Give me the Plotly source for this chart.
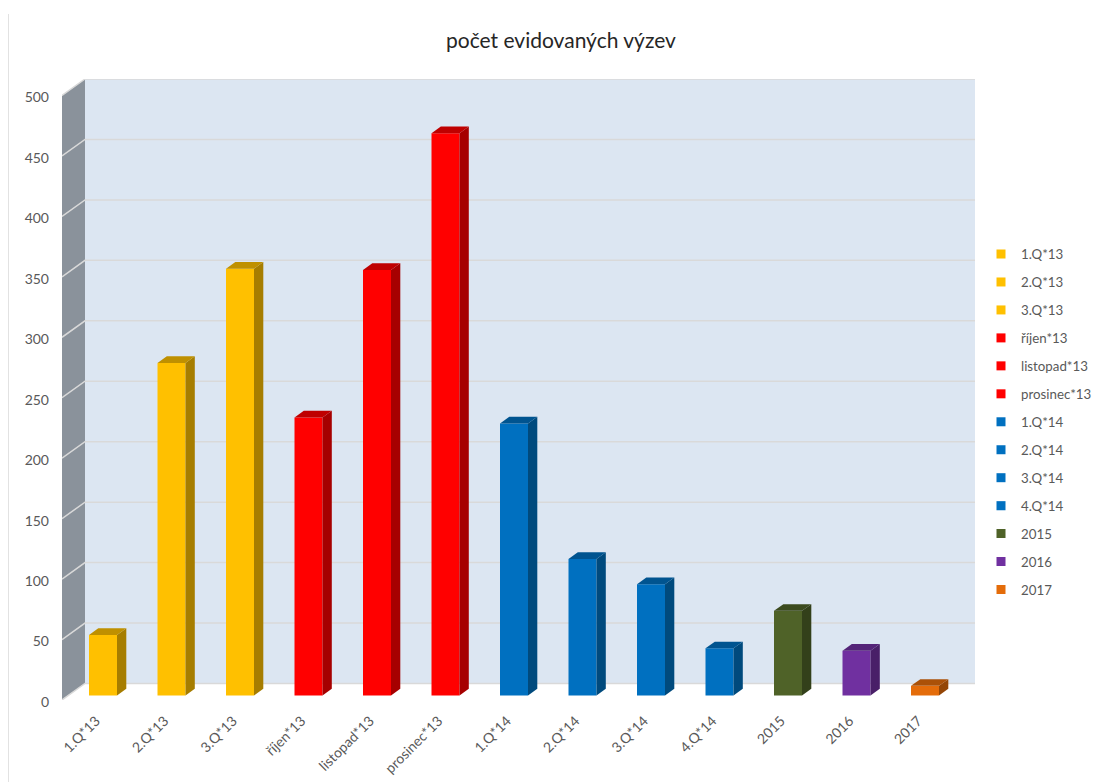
import plotly.graph_objects as go

categories = ["1.Q*13", "2.Q*13", "3.Q*13", "říjen*13", "listopad*13", "prosinec*13",
              "1.Q*14", "2.Q*14", "3.Q*14", "4.Q*14", "2015", "2016", "2017"]
values = [50, 275, 353, 230, 352, 465, 225, 113, 92, 39, 70, 37, 8]
front_colors = ["#FFC000"] * 3 + ["#FF0000"] * 3 + ["#0070C0"] * 4 + ["#4F6228", "#7030A0", "#E46C0A"]
side_colors = ["#A67D00"] * 3 + ["#A60000"] * 3 + ["#004A7D"] * 4 + ["#33401A", "#491F68", "#944606"]
top_colors = ["#BF9000"] * 3 + ["#BF0000"] * 3 + ["#005490"] * 4 + ["#3B4A1E", "#542478", "#AB5108"]
y_ticks = list(range(0, 501, 50))

# pixel layout of the plot frame (page coordinates)
PX_L, PX_R, PX_T, PX_B = 62, 975, 79, 700.5
FIG_W, FIG_H = 1125, 782
PAGE_OFF = 8
CAT_PX = 68.5
CAT0_PX = 103
VAL_PX = 1.21

x_lo = (PX_L - CAT0_PX) / CAT_PX
x_hi = (PX_R - CAT0_PX) / CAT_PX
y_hi = (PX_B - PX_T) / VAL_PX

# oblique projection, expressed in data units
WALL_DX, WALL_DY = 23 / CAT_PX, 16.5 / VAL_PX
FLOOR_DY = 4.5 / VAL_PX
BAR_DX, BAR_DY = 9.3 / CAT_PX, 6.7 / VAL_PX
BAR_W = 28 / CAT_PX

fig = go.Figure()
shapes = []

def poly(xs, ys):
    return "M" + "L".join(f"{a},{b}" for a, b in zip(xs, ys)) + "Z"

# back wall and side wall
top = y_ticks[-1]
shapes.append(dict(type="path", xref="x", yref="y", layer="below", line_width=0, fillcolor="#DCE6F2",
                   path=poly([x_lo + WALL_DX, x_hi, x_hi, x_lo + WALL_DX],
                             [WALL_DY, WALL_DY, top + WALL_DY, top + WALL_DY])))
shapes.append(dict(type="path", xref="x", yref="y", layer="below", line_width=0, fillcolor="#8A929B",
                   path=poly([x_lo, x_lo + WALL_DX, x_lo + WALL_DX, x_lo],
                             [0, WALL_DY, top + WALL_DY, top])))
# gridlines run along the side wall and across the back wall
for t in y_ticks:
    shapes.append(dict(type="path", xref="x", yref="y", layer="below",
                       line=dict(color="#D9D9D9", width=1.5),
                       path=f"M{x_lo},{t}L{x_lo + WALL_DX},{t + WALL_DY}L{x_hi},{t + WALL_DY}"))
# thin page rule on the left
shapes.append(dict(type="line", xref="paper", yref="paper", layer="below",
                   x0=(8 - PX_L) / (PX_R - PX_L), x1=(8 - PX_L) / (PX_R - PX_L),
                   y0=(PX_B - 14) / (PX_B - PX_T), y1=(PX_B - FIG_H - 10) / (PX_B - PX_T),
                   line=dict(color="#D9D9D9", width=1.5)))

xs = list(range(len(categories)))
for i, (name, v, fc, sc, tc) in enumerate(zip(categories, values, front_colors, side_colors, top_colors)):
    left, right = i - BAR_W / 2, i + BAR_W / 2
    base = FLOOR_DY
    fig.add_trace(go.Bar(x=[i], y=[v], base=[base], width=BAR_W, marker=dict(color=fc, line_width=0),
                         name=name, legendgroup=name, showlegend=False))
    # side face
    fig.add_trace(go.Scatter(x=[right, right + BAR_DX, right + BAR_DX, right, right],
                             y=[base, base + BAR_DY, base + v + BAR_DY, base + v, base],
                             mode="lines", fill="toself", fillcolor=sc, line=dict(width=0, color=sc),
                             hoverinfo="skip", legendgroup=name, showlegend=False))
    # top face
    fig.add_trace(go.Scatter(x=[left, left + BAR_DX, right + BAR_DX, right, left],
                             y=[base + v, base + v + BAR_DY, base + v + BAR_DY, base + v, base + v],
                             mode="lines", fill="toself", fillcolor=tc, line=dict(width=0, color=tc),
                             hoverinfo="skip", legendgroup=name, showlegend=False))
    # legend entry
    fig.add_trace(go.Scatter(x=[None], y=[None], mode="markers", name=name, legendgroup=name,
                             marker=dict(symbol="square", size=9, color=fc)))

fig.update_layout(
    width=FIG_W, height=FIG_H, autosize=False,
    margin=dict(l=PX_L - PAGE_OFF, r=FIG_W - PX_R + PAGE_OFF, t=PX_T - PAGE_OFF, b=FIG_H - PX_B + PAGE_OFF, pad=0),
    paper_bgcolor="white", plot_bgcolor="rgba(0,0,0,0)",
    font=dict(family="Lato", size=14, color="#595959"),
    title=dict(text="počet evidovaných výzev", font=dict(family="Lato", size=21, color="#262626"),
               x=(561 - PAGE_OFF) / FIG_W, xanchor="center", y=1 - (41 - PAGE_OFF) / FIG_H, yanchor="middle"),
    shapes=shapes, barmode="overlay",
    legend=dict(x=(981 - PX_L) / (PX_R - PX_L), xanchor="left", y=(PX_B - 239) / (PX_B - PX_T), yanchor="top",
                traceorder="grouped", tracegroupgap=7.67, font=dict(size=13.3, color="#595959"),
                bgcolor="rgba(0,0,0,0)", itemclick=False, itemdoubleclick=False),
    xaxis=dict(range=[x_lo, x_hi], tickmode="array", tickvals=xs, ticktext=categories, tickangle=-45,
               showgrid=False, zeroline=False, showline=False, ticks="", ticklabelstandoff=9,
               ticklabelshift=-7, tickfont=dict(size=14, color="#595959")),
    yaxis=dict(range=[0, y_hi], tickmode="array", tickvals=y_ticks, showgrid=False, zeroline=False,
               showline=False, ticks="", ticklabelstandoff=12, ticklabelshift=2,
               tickfont=dict(size=14, color="#595959")),
)

fig.write_html("out.html")
